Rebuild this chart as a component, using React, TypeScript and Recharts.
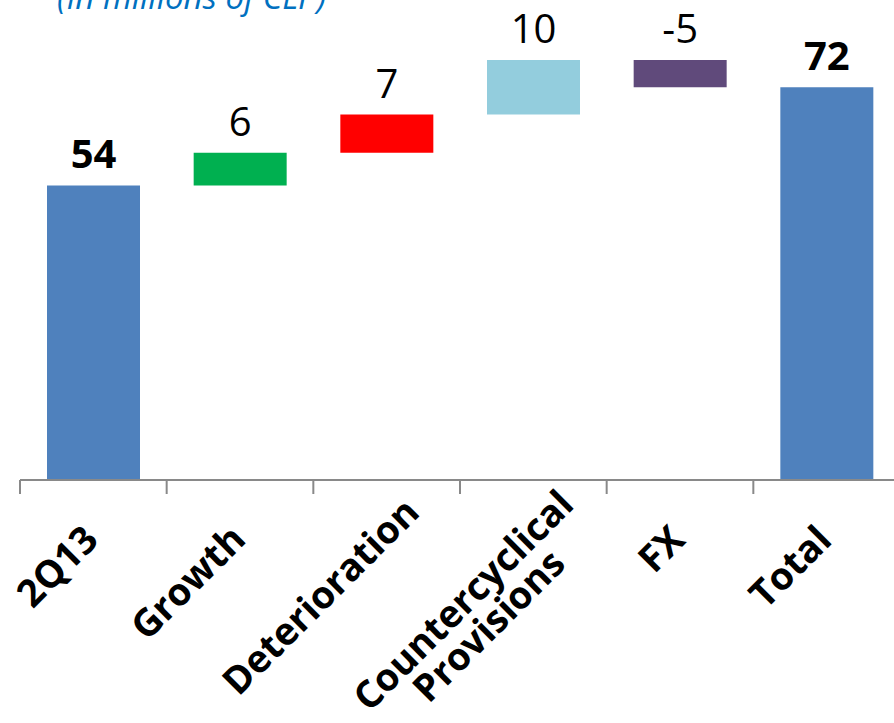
import React from "react";
import { BarChart, Bar, XAxis, YAxis, Cell, LabelList } from "recharts";

// Waterfall steps
const categories = ["2Q13", "Growth", "Deterioration", "Countercyclical\nProvisions", "FX", "Total"];
const stepValues = [54, 6, 7, 10, -5, 72];
const stepKinds = ["total", "delta", "delta", "delta", "delta", "total"];

const BAR_COLORS = ["#4f81bd", "#00b050", "#ff0000", "#93cddd", "#604a7b", "#4f81bd"];
const AXIS_GRAY = "#898989";
const FONT = "'Open Sans', sans-serif";

const CHART_W = 900;
const CHART_H = 723;
const MARGIN = { top: 0, right: 0, left: 20, bottom: 0 };
const HALF_BAND = (CHART_W - MARGIN.left - MARGIN.right) / categories.length / 2;

// build invisible base + visible step for each category
let running = 0;
const data = categories.map((name, i) => {
  const v = stepValues[i];
  let base = 0;
  if (stepKinds[i] === "total") {
    running = v;
  } else {
    base = v >= 0 ? running : running + v;
    running += v;
  }
  return { name, base, step: Math.abs(v), label: String(v), total: stepKinds[i] === "total" };
});

let canvasCtx: CanvasRenderingContext2D | null = null;
const measure = (text: string, font: string) => {
  if (!canvasCtx) canvasCtx = document.createElement("canvas").getContext("2d");
  if (!canvasCtx) return text.length * 20;
  canvasCtx.font = font;
  return canvasCtx.measureText(text).width;
};

const TICK_FONT_SIZE = 38;
const LINE_H = 36;

const CategoryTick = (props: any) => {
  const { x, y, payload, index } = props;
  const lines = String(payload.value).split("\n");
  const widths = lines.map((l: string) => measure(l, `bold ${TICK_FONT_SIZE}px 'Open Sans'`));
  const w = Math.max(...widths);
  // long labels get pushed up along the slant, like the original
  const shift = Math.max(0, w - 140) * 0.33;
  const ax = x + 7 + shift * 0.707;
  const ay = y + 62 - shift * 0.707;
  return (
    <g>
      <line x1={x - HALF_BAND} x2={x - HALF_BAND} y1={y} y2={y + 14} stroke={AXIS_GRAY} strokeWidth={2} />
      {index === categories.length - 1 && (
        <line x1={x + HALF_BAND} x2={x + HALF_BAND} y1={y} y2={y + 14} stroke={AXIS_GRAY} strokeWidth={2} />
      )}
      <g transform={`translate(${ax},${ay}) rotate(-45)`}>
        <text textAnchor="end" fontFamily={FONT} fontWeight="bold" fontSize={TICK_FONT_SIZE} fill="#000">
          {lines.map((l: string, i: number) => (
            <tspan key={i} x={-(w - widths[i]) / 2} y={i * LINE_H}>
              {l}
            </tspan>
          ))}
        </text>
      </g>
    </g>
  );
};

const StepLabel = (props: any) => {
  const { x, y, width, value, index } = props;
  const bold = data[index].total;
  return (
    <text
      x={x + width / 2}
      y={y - 17}
      textAnchor="middle"
      fontFamily={FONT}
      fontWeight={bold ? "bold" : "normal"}
      fontSize={40}
      fill="#000"
    >
      {value}
    </text>
  );
};

const App = () => {
  return (
    <div style={{ position: "absolute", left: 0, top: 0, width: 894, height: 723, overflow: "hidden", background: "#fff" }}>
      <BarChart width={CHART_W} height={CHART_H} data={data} margin={MARGIN}>
        <YAxis hide domain={[0, 88]} />
        <XAxis
          dataKey="name"
          interval={0}
          height={CHART_H - 480}
          tickSize={0}
          tickMargin={0}
          tickLine={false}
          axisLine={{ stroke: AXIS_GRAY, strokeWidth: 2 }}
          tick={<CategoryTick />}
        />
        <Bar dataKey="base" stackId="w" fill="transparent" barSize={93} isAnimationActive={false} />
        <Bar dataKey="step" stackId="w" barSize={93} isAnimationActive={false}>
          {data.map((d, i) => (
            <Cell key={`cell-${i}`} fill={BAR_COLORS[i]} />
          ))}
          <LabelList dataKey="label" content={<StepLabel />} />
        </Bar>
      </BarChart>
      <svg width={400} height={20} style={{ position: "absolute", left: 0, top: 0 }}>
        <text x={57} y={9} fontFamily={FONT} fontStyle="italic" fontSize={33} fill="#0070c0">
          (In millions of CLP)
        </text>
      </svg>
    </div>
  );
};

export default App;
